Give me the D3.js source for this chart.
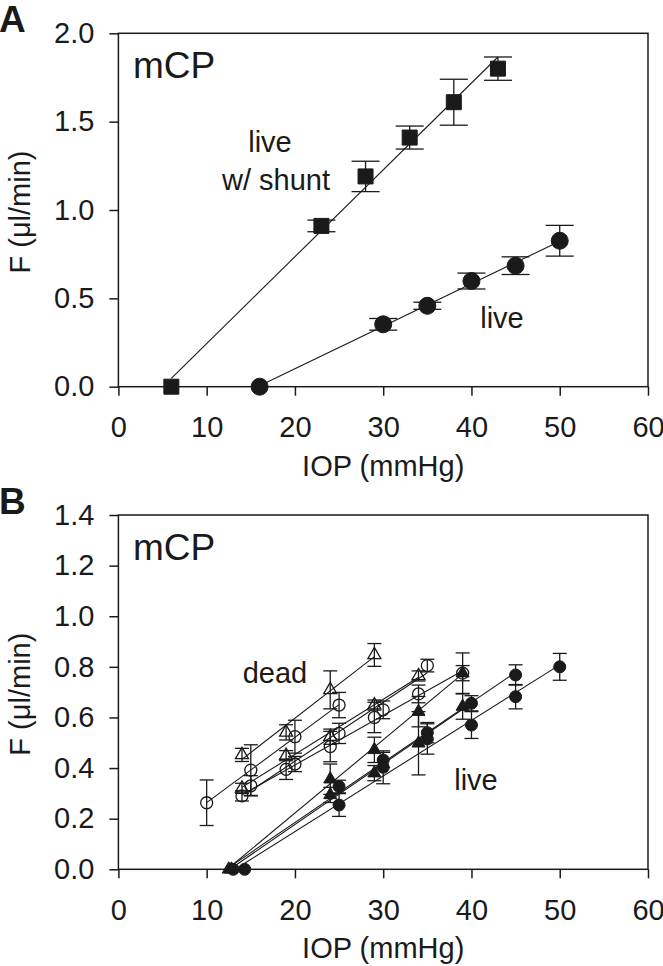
<!DOCTYPE html>
<html>
<head>
<meta charset="utf-8">
<script src="https://cdn.jsdelivr.net/npm/d3@7"></script>
<style>
  body { margin: 0; background: #fff; }
  svg text { font-family: "Liberation Sans", Arial, sans-serif; fill: #1a1a1a; }
</style>
</head>
<body>
<script>
// ---- axis ticks ----
var iopTicks = [0, 10, 20, 30, 40, 50, 60];
var fTicksA = [0, 0.5, 1.0, 1.5, 2.0];
var fTicksB = [0, 0.2, 0.4, 0.6, 0.8, 1.0, 1.2, 1.4];

// ---- panel A: live w/ shunt (squares), live (circles) ----
var shuntIOP = [6, 23, 28, 33, 38, 43];
var shuntF   = [0, 0.91, 1.19, 1.41, 1.61, 1.80];
var shuntErr = [0, 0.033, 0.086, 0.065, 0.13, 0.066];

var liveIOP = [16, 30, 35, 40, 45, 50];
var liveF   = [0, 0.353, 0.458, 0.598, 0.685, 0.826];
var liveErr = [0, 0.033, 0.02, 0.045, 0.05, 0.087];

// ---- panel B: dead eyes (open symbols) ----
var deadA_IOP = [14, 19, 24, 29];
var deadA_F   = [0.452, 0.541, 0.709, 0.847];
var deadA_Err = [0.026, 0.03, 0.075, 0.045];

var deadB_IOP = [10, 15, 20, 25];
var deadB_F   = [0.263, 0.392, 0.524, 0.649];
var deadB_Err = [0.09, 0.1, 0.065, 0.05];

var deadC_IOP = [14, 19, 24, 29, 34];
var deadC_F   = [0.32, 0.449, 0.524, 0.649, 0.764];
var deadC_Err = [0.02, 0.02, 0.03, 0.02, 0.02];

var deadD_IOP = [15, 20, 25, 30, 35];
var deadD_F   = [0.33, 0.416, 0.537, 0.63, 0.805];
var deadD_Err = [0.04, 0.03, 0.04, 0.035, 0.025];

var deadE_IOP = [14, 19, 24, 29, 34, 39];
var deadE_F   = [0.29, 0.395, 0.485, 0.60, 0.693, 0.775];
var deadE_Err = [0.02, 0.04, 0.06, 0.06, 0.035, 0.08];

// ---- panel B: live eyes (filled symbols) ----
var liveA_IOP = [12.5, 24, 29, 34, 39];
var liveA_F   = [0, 0.356, 0.472, 0.623, 0.775];
var liveA_Err = [0, 0.06, 0.05, 0.06, 0.03];

var liveB_IOP = [12.8, 24, 29, 34, 39];
var liveB_F   = [0, 0.294, 0.38, 0.498, 0.643];
var liveB_Err = [0, 0.03, 0.03, 0.125, 0.05];

var liveC_IOP = [13, 25, 30, 35, 40, 45];
var liveC_F   = [0, 0.327, 0.432, 0.54, 0.656, 0.768];
var liveC_Err = [0, 0.025, 0.03, 0.04, 0.03, 0.04];

var liveD_IOP = [14.3, 25, 30, 35, 40, 45, 50];
var liveD_F   = [0, 0.254, 0.403, 0.515, 0.57, 0.682, 0.80];
var liveD_Err = [0, 0.045, 0.065, 0.06, 0.053, 0.048, 0.053];

var W = 663, H = 966;
var ink = "#1a1a1a";

var svg = d3.select("body").append("svg")
    .attr("width", W)
    .attr("height", H);

var x = d3.scaleLinear().domain([0, 60]).range([118.4, 648]);

// least squares line over the range of the points
function fitLine(xs, ys) {
  var mx = d3.mean(xs), my = d3.mean(ys);
  var sxy = 0, sxx = 0;
  xs.forEach(function(v, i) {
    sxy += (v - mx) * (ys[i] - my);
    sxx += (v - mx) * (v - mx);
  });
  var b = sxy / sxx;
  var x0 = d3.min(xs), x1 = d3.max(xs);
  return [[x0, my + b * (x0 - mx)], [x1, my + b * (x1 - mx)]];
}

function markerPath(shape, s) {
  if (shape === "square") {
    var h = s / 2;
    return "M" + (-h) + "," + (-h) + "H" + h + "V" + h + "H" + (-h) + "Z";
  }
  if (shape === "triangle") {
    var th = s * 0.866;
    return "M0," + (-th * 2 / 3) + "L" + (s / 2) + "," + (th / 3) + "L" + (-s / 2) + "," + (th / 3) + "Z";
  }
  var r = s / 2;
  return "M" + r + ",0A" + r + "," + r + " 0 1,1 " + (-r) + ",0A" + r + "," + r + " 0 1,1 " + r + ",0Z";
}

function drawPanel(p) {
  var y = d3.scaleLinear().domain(p.yDomain).range(p.yRange);
  var g = svg.append("g");

  // frame
  g.append("rect")
      .attr("x", x.range()[0])
      .attr("y", p.yRange[1])
      .attr("width", x.range()[1] - x.range()[0])
      .attr("height", p.yRange[0] - p.yRange[1])
      .attr("fill", "none")
      .attr("stroke", ink)
      .attr("stroke-width", 1.5);

  var yAxis = d3.axisLeft(y)
      .tickValues(p.yTicks)
      .tickSize(9)
      .tickSizeOuter(0)
      .tickPadding(15)
      .tickFormat(d3.format(".1f"));
  var xAxis = d3.axisBottom(x)
      .tickValues(iopTicks)
      .tickSize(9)
      .tickSizeOuter(0)
      .tickPadding(21)
      .tickFormat(d3.format("d"));

  var ya = g.append("g")
      .attr("transform", "translate(" + x.range()[0] + ",0)")
      .call(yAxis);
  var xa = g.append("g")
      .attr("transform", "translate(0," + p.yRange[0] + ")")
      .call(xAxis);
  [ya, xa].forEach(function(a) {
    a.select(".domain").remove();
    a.selectAll(".tick line").attr("stroke", ink).attr("stroke-width", 1.5);
    a.selectAll(".tick text")
        .attr("font-family", "Liberation Sans, Arial, sans-serif")
        .attr("font-size", 29)
        .attr("fill", ink);
  });

  // axis titles
  g.append("text")
      .attr("x", (x.range()[0] + x.range()[1]) / 2)
      .attr("y", p.yRange[0] + 89)
      .attr("text-anchor", "middle")
      .attr("font-size", 29)
      .text("IOP (mmHg)");
  g.append("text")
      .attr("transform", "translate(30," + ((p.yRange[0] + p.yRange[1]) / 2 + 2) + ") rotate(-90)")
      .attr("text-anchor", "middle")
      .attr("font-size", 29)
      .text("F  (\u03bcl/min)");

  // panel letter and drug name
  g.append("text")
      .attr("x", -1)
      .attr("y", p.yRange[1] - 1)
      .attr("font-size", 37)
      .attr("font-weight", "bold")
      .text(p.letter);
  g.append("text")
      .attr("x", 133)
      .attr("y", p.yRange[1] + 45)
      .attr("font-size", 37)
      .text("mCP");

  p.notes.forEach(function(n) {
    g.append("text")
        .attr("x", n.x)
        .attr("y", n.y)
        .attr("text-anchor", "middle")
        .attr("font-size", 29)
        .text(n.text);
  });

  // fit lines
  p.series.forEach(function(s) {
    var seg = fitLine(s.iop, s.f);
    g.append("path")
        .attr("d", d3.line().x(function(d) { return x(d[0]); }).y(function(d) { return y(d[1]); })(seg))
        .attr("fill", "none")
        .attr("stroke", ink)
        .attr("stroke-width", 1.1);
  });

  // error bars
  p.series.forEach(function(s) {
    var pts = s.iop.map(function(v, i) { return {x: v, f: s.f[i], e: s.err[i]}; })
        .filter(function(d) { return d.e > 0; });
    var eb = g.append("g").attr("stroke", ink).attr("stroke-width", 1.3);
    eb.selectAll(".v").data(pts).enter().append("line")
        .attr("x1", function(d) { return x(d.x); })
        .attr("x2", function(d) { return x(d.x); })
        .attr("y1", function(d) { return y(d.f - d.e); })
        .attr("y2", function(d) { return y(d.f + d.e); });
    [-1, 1].forEach(function(sgn) {
      eb.selectAll(".c" + sgn).data(pts).enter().append("line")
          .attr("x1", function(d) { return x(d.x) - p.cap; })
          .attr("x2", function(d) { return x(d.x) + p.cap; })
          .attr("y1", function(d) { return y(d.f + sgn * d.e); })
          .attr("y2", function(d) { return y(d.f + sgn * d.e); });
    });
  });

  // markers
  p.series.forEach(function(s) {
    var pts = s.iop.map(function(v, i) { return {x: v, f: s.f[i]}; });
    g.selectAll(null).data(pts).enter().append("path")
        .attr("transform", function(d) { return "translate(" + x(d.x) + "," + y(d.f) + ")"; })
        .attr("d", markerPath(s.shape, s.size))
        .attr("fill", s.open ? "none" : ink)
        .attr("stroke", ink)
        .attr("stroke-width", s.open ? 1.3 : 1);
  });
}

drawPanel({
  letter: "A",
  yDomain: [0, 2],
  yRange: [386.7, 33.3],
  yTicks: fTicksA,
  cap: 14,
  notes: [
    {text: "live", x: 270, y: 152},
    {text: "w/ shunt", x: 276, y: 190},
    {text: "live", x: 502, y: 328}
  ],
  series: [
    {iop: shuntIOP, f: shuntF, err: shuntErr, shape: "square", size: 15, open: false},
    {iop: liveIOP, f: liveF, err: liveErr, shape: "circle", size: 17, open: false}
  ]
});

drawPanel({
  letter: "B",
  yDomain: [0, 1.4],
  yRange: [869.3, 515],
  yTicks: fTicksB,
  cap: 7,
  notes: [
    {text: "dead", x: 275, y: 683},
    {text: "live", x: 476, y: 790}
  ],
  series: [
    {iop: deadA_IOP, f: deadA_F, err: deadA_Err, shape: "triangle", size: 13, open: true},
    {iop: deadB_IOP, f: deadB_F, err: deadB_Err, shape: "circle", size: 12, open: true},
    {iop: deadC_IOP, f: deadC_F, err: deadC_Err, shape: "triangle", size: 13, open: true},
    {iop: deadD_IOP, f: deadD_F, err: deadD_Err, shape: "circle", size: 12, open: true},
    {iop: deadE_IOP, f: deadE_F, err: deadE_Err, shape: "circle", size: 12, open: true},
    {iop: liveA_IOP, f: liveA_F, err: liveA_Err, shape: "triangle", size: 13, open: false},
    {iop: liveB_IOP, f: liveB_F, err: liveB_Err, shape: "triangle", size: 13, open: false},
    {iop: liveC_IOP, f: liveC_F, err: liveC_Err, shape: "circle", size: 12, open: false},
    {iop: liveD_IOP, f: liveD_F, err: liveD_Err, shape: "circle", size: 12, open: false}
  ]
});
</script>
</body>
</html>
